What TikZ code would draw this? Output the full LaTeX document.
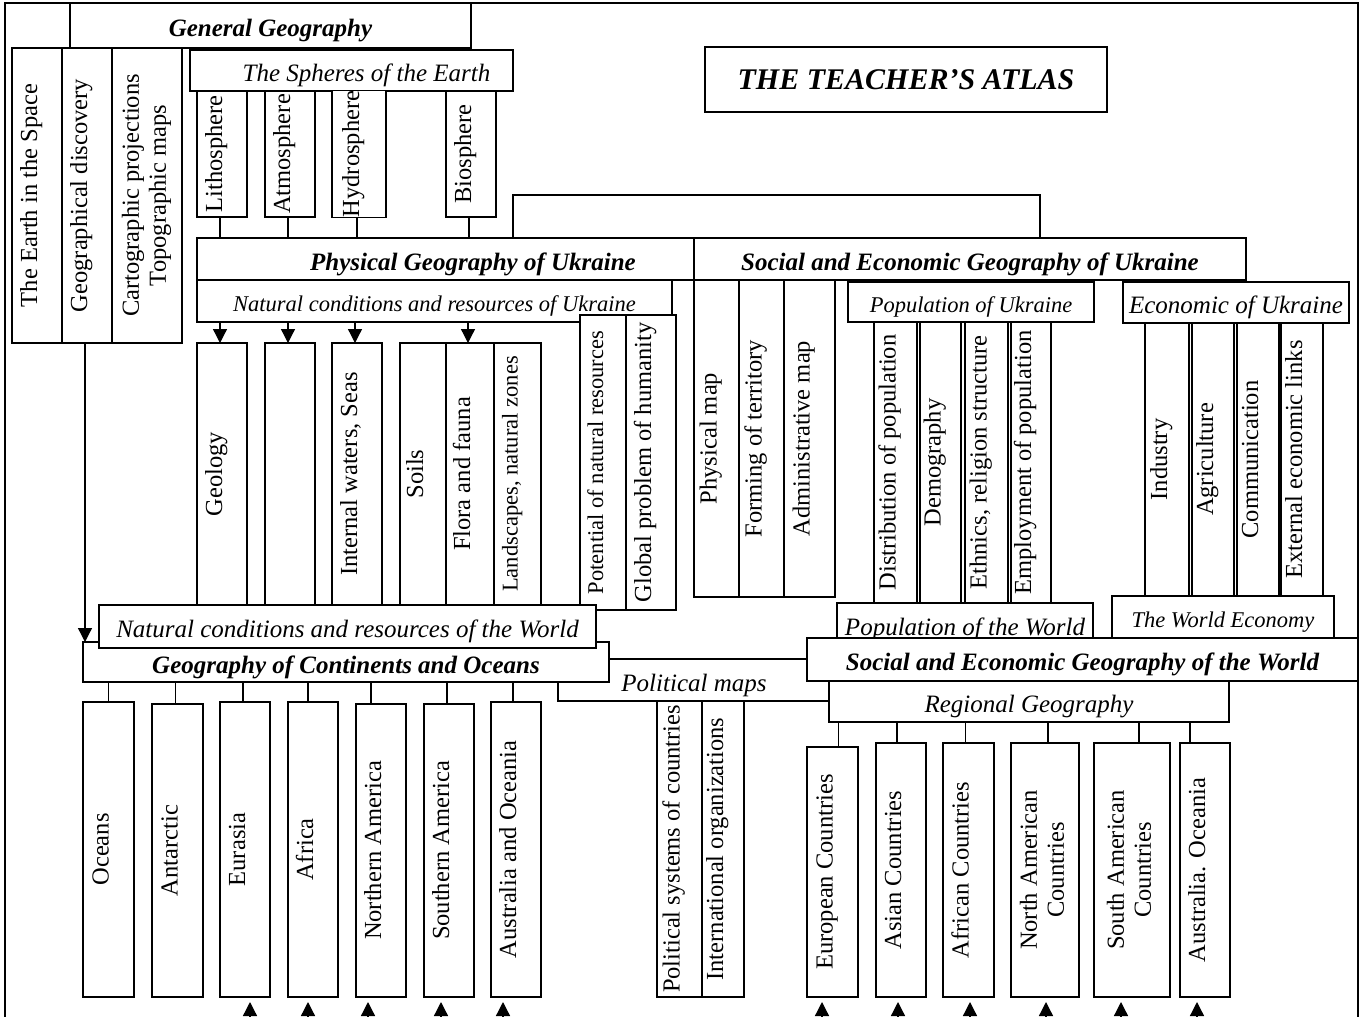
\documentclass[tikz,border=0pt]{standalone}
\usepackage{fontspec}
\setmainfont{Liberation Serif}
\usetikzlibrary{arrows.meta}
\newcommand\fA{\fontsize{24.5}{27}\selectfont}
\newcommand\fB{\fontsize{22.5}{25}\selectfont}
\newcommand\fH{\fontsize{25}{28}\selectfont}
\newcommand\V[1]{\rotatebox{90}{\raisebox{0pt}[12pt][12pt]{#1}}}
\newcommand\VV[2]{\rotatebox{90}{\begin{tabular}{@{}c@{}}#1\\#2\end{tabular}}}
\newcommand\mkbox[7][]{\node[box,#1,minimum width={#5-#3},minimum height={#6-#4}] (#2) at ({(#3+#5)/2},{(#4+#6)/2}) {#7};}
\tikzset{
 box/.style={draw,line width=1.3pt,fill=white,inner sep=0pt,outer sep=0pt,font=\fA},
 head/.style={font=\fH\bfseries\itshape,text height=27.5pt,text depth=5pt},
 sub/.style={font=\fH\itshape,text height=27.5pt,text depth=5pt},
 subs/.style={font=\fB\itshape,text height=25pt,text depth=4.5pt},
 small/.style={font=\fB},
 arr/.style={line width=1.3pt,-{Triangle[width=14pt,length=14pt]}},
 link/.style={line width=1.3pt},
}
\begin{document}
\begin{tikzpicture}[x=1pt,y=-1pt]
\useasboundingbox (0,0) rectangle (1361,1017);
% frame
\coordinate (fbl) at (5,1017); \coordinate (ftl) at (5,3);
\coordinate (ftr) at (1358,3); \coordinate (fbr) at (1358,1017);
\draw[link] (fbl) -- (ftl) -- (ftr) -- (fbr);
% general geography
\mkbox[head]{gg}{70}{3}{471}{48}{General Geography}
\mkbox{earth}{12}{48}{62}{343}{\V{The Earth in the Space}}
\mkbox{disc}{62}{48}{112}{343}{\V{Geographical discovery}}
\mkbox{carto}{112}{48}{182}{343}{\VV{Cartographic projections}{Topographic maps}}
\mkbox[sub]{sph}{190}{50}{513}{91}{\hspace*{30pt}The Spheres of the Earth}
\mkbox{lith}{197}{91}{247}{217}{\V{Lithosphere}}
\mkbox{atm}{265}{91}{315}{217}{\V{Atmosphere}}
\mkbox{hyd}{332}{91}{386}{217}{\V{Hydrosphere}}
\mkbox{bio}{446}{91}{496}{217}{\V{Biosphere}}
\mkbox[font=\fontsize{30}{34}\selectfont\bfseries\itshape]{title}{705}{47}{1107}{112}{THE TEACHER’S ATLAS}
% Ukraine
\mkbox[head]{pgu}{197}{238}{749}{280}{Physical Geography of Ukraine}
\mkbox[head]{seu}{694}{238}{1246}{280}{Social and Economic Geography of Ukraine}
\coordinate (br1) at (513,195); \coordinate (br2) at (1040,195);
\draw[link] (pgu.north -| br1) -- (br1) -- (br2) -- (seu.north -| br2);
\foreach \n in {lith,atm,hyd,bio} \draw[link] ([xshift=-2pt]\n.south) -- ([xshift=-2pt]\n.south |- pgu.north);
\mkbox[subs]{ncu}{197}{280}{672}{322}{Natural conditions and resources of Ukraine}
\mkbox{pmap}{694}{280}{739}{597}{\V{Physical map}}
\mkbox{form}{739}{280}{784}{597}{\V{Forming of territory}}
\mkbox{adm}{784}{280}{835}{597}{\V{Administrative map}}
\mkbox[subs]{popu}{848}{282}{1094}{322}{Population of Ukraine}
\mkbox{dist}{874}{322}{917}{603}{\V{Distribution of population}}
\mkbox{demo}{920}{322}{961}{603}{\V{Demography}}
\mkbox{eth}{965}{322}{1008}{603}{\V{Ethnics, religion structure}}
\mkbox{emp}{1011}{322}{1051}{603}{\V{Employment of population}}
\mkbox[sub]{ecu}{1123}{282}{1349}{323}{Economic of Ukraine}
\mkbox{ind}{1145}{323}{1189}{596}{\V{Industry}}
\mkbox{agr}{1192}{323}{1234}{596}{\V{Agriculture}}
\mkbox{com}{1237}{323}{1279}{596}{\V{Communication}}
\mkbox{ext}{1281}{323}{1323}{596}{\V{External economic links}}
% natural conditions columns
\mkbox{geo}{197}{343}{247}{605}{\V{Geology}}
\mkbox{blank}{265}{343}{315}{605}{}
\mkbox{inw}{332}{343}{382}{605}{\V{Internal waters, Seas}}
\mkbox{soil}{400}{343}{446}{605}{\V{Soils}}
\mkbox{flora}{446}{343}{494}{605}{\V{Flora and fauna}}
\mkbox[small]{land}{494}{343}{541}{605}{\V{Landscapes, natural zones}}
\foreach \n in {geo,blank,inw,flora} \draw[arr] ([xshift=-2pt]\n.north |- ncu.south) -- ([xshift=-2pt]\n.north);
\mkbox[small]{pot}{580}{315}{626}{610}{\V{Potential of natural resources}}
\mkbox{glob}{626}{315}{676}{610}{\V{Global problem of humanity}}
% world
\mkbox[sub]{pw}{837}{603}{1093}{645}{Population of the World}
\mkbox[subs]{we}{1112}{596}{1334}{638}{The World Economy}
\mkbox[sub]{polm}{558}{659}{830}{701}{Political maps}
\mkbox[head]{gc}{83}{642}{609}{682}{Geography of Continents and Oceans}
\mkbox[sub]{ncw}{99}{605}{596}{648}{Natural conditions and resources of the World}
\draw[arr] ([xshift=-2pt]disc.south) -- ([xshift=-2pt]disc.south |- gc.north);
\mkbox[head]{sew}{807}{638}{1358}{681}{Social and Economic Geography of the World}
\mkbox[sub]{rg}{829}{681}{1229}{722}{Regional Geography}
% continents
\mkbox{oce}{83}{702}{134}{997}{\V{Oceans}}
\mkbox{ant}{152}{704}{203}{997}{\V{Antarctic}}
\mkbox{eur}{220}{702}{270}{997}{\V{Eurasia}}
\mkbox{afr}{288}{702}{338}{997}{\V{Africa}}
\mkbox{nam}{356}{704}{406}{997}{\V{Northern America}}
\mkbox{sam}{424}{704}{474}{997}{\V{Southern America}}
\mkbox{aus}{491}{702}{541}{997}{\V{Australia and Oceania}}
\foreach \n/\s in {oce/0,ant/-2,eur/-2,afr/-5,nam/-10,sam/-2,aus/-3} \draw[link] ([xshift=\s pt]\n.north) -- ([xshift=\s pt]\n.north |- gc.south);
% political
\mkbox{psys}{657}{701}{702}{997}{\V{Political systems of countries}}
\mkbox{intl}{702}{701}{744}{997}{\V{International organizations}}
% regional
\mkbox{euc}{807}{747}{858}{997}{\V{European Countries}}
\mkbox{asc}{876}{743}{926}{997}{\V{Asian Countries}}
\mkbox{afc}{943}{743}{994}{997}{\V{African Countries}}
\mkbox{nac}{1011}{743}{1079}{997}{\VV{North American}{Countries}}
\mkbox{sac}{1094}{743}{1170}{997}{\VV{South American}{Countries}}
\mkbox{auc}{1180}{743}{1230}{997}{\V{Australia. Oceania}}
\foreach \n/\s in {euc/6,asc/-4,afc/-3,nac/3,sac/7,auc/-15} \draw[link] ([xshift=\s pt]\n.north) -- ([xshift=\s pt]\n.north |- rg.south);
% continuation arrows
\foreach \i/\x in {1/250,2/308,3/368,4/441,5/503,6/822,7/898,8/970,9/1046,10/1121,11/1197}{
  \coordinate (ab\i) at (\x,1022); \coordinate (at\i) at (\x,1002);
  \draw[arr] (ab\i) -- (at\i);
}
\end{tikzpicture}
\end{document}
